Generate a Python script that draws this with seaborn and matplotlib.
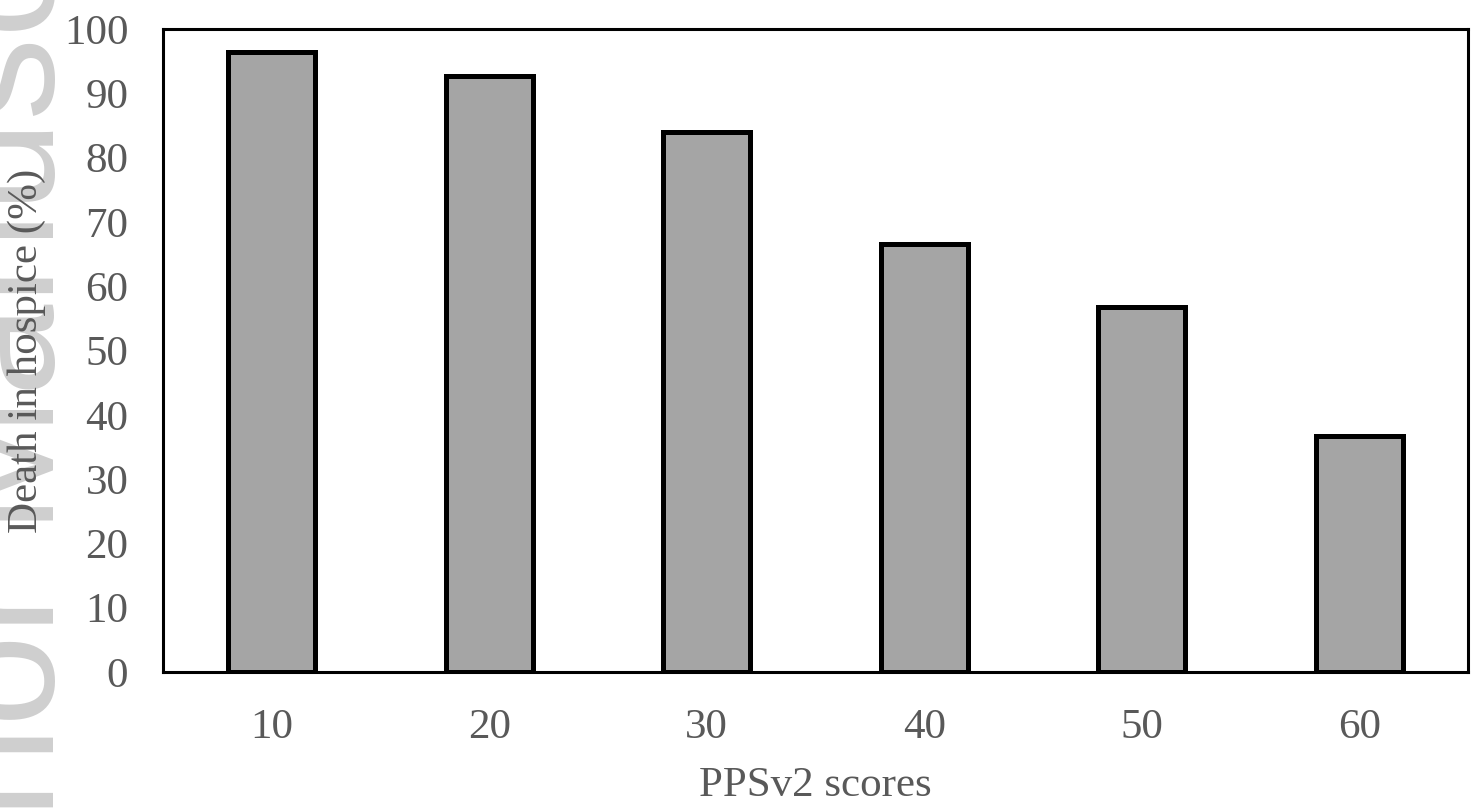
import matplotlib
matplotlib.use("Agg")
import matplotlib.pyplot as plt
import seaborn as sns
import pandas as pd

# PPSv2 score groups and share of patients who died in hospice
scores = ["10", "20", "30", "40", "50", "60"]
death_in_hospice = [96.4, 92.7, 84.0, 66.6, 56.8, 36.7]
y_ticks = [0, 10, 20, 30, 40, 50, 60, 70, 80, 90, 100]

df = pd.DataFrame({"score": scores, "pct": death_in_hospice})

sns.set_style("white")
plt.rcParams["font.family"] = ["Liberation Serif", "DejaVu Serif"]

text_grey = "#595959"
fs = 31

fig = plt.figure(figsize=(14.83, 8.09), dpi=100)

# faint rotated watermark along the left edge, behind everything else
fig.text(54 / 1483, 1 - 1066 / 809, "Author Manuscript", rotation=90,
         rotation_mode="anchor", ha="left", va="baseline",
         fontsize=119, color="#cfcfcf", family=["Liberation Sans", "DejaVu Sans"],
         zorder=-5)

ax = fig.add_axes([163 / 1483, 1 - 672 / 809, (1468 - 163) / 1483, (672 - 29) / 809])
ax.patch.set_alpha(0)

sns.barplot(data=df, x="score", y="pct", order=scores, color="#a5a5a5",
            saturation=1, edgecolor="black", linewidth=3.6, width=0.4, ax=ax)

ax.set_ylim(0, 100)
ax.set_xlim(-0.5, len(scores) - 0.5)
ax.set_yticks(y_ticks)
ax.set_yticklabels([str(t) for t in y_ticks])

for side in ["left", "right", "top", "bottom"]:
    ax.spines[side].set_visible(True)
    ax.spines[side].set_color("black")
    ax.spines[side].set_linewidth(2.2)

ax.tick_params(axis="both", length=0, labelsize=fs, labelcolor=text_grey)
ax.tick_params(axis="y", pad=25)
ax.tick_params(axis="x", pad=26)

ax.set_xlabel("PPSv2 scores", fontsize=fs, color=text_grey, labelpad=14)
ax.set_ylabel("Death in hospice (%)", fontsize=fs, color=text_grey, labelpad=13)
ax.grid(False)

fig.savefig("out.png", dpi=100)
